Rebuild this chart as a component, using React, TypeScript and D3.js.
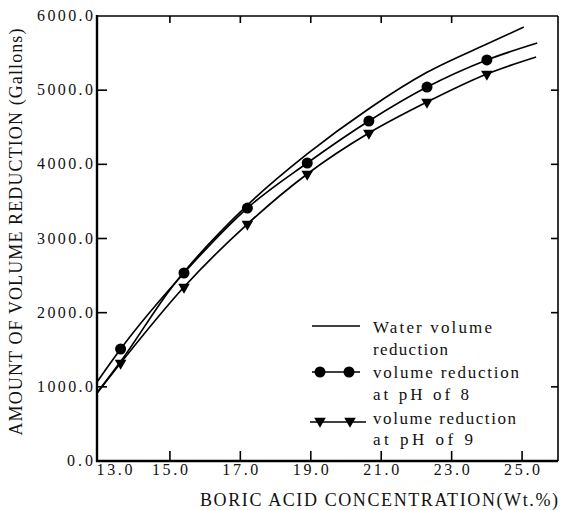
import React from 'react';
import * as d3 from 'd3';

// ==== data

const concentration = [13.6, 15.4, 17.2, 18.9, 20.65, 22.3, 24.0];
const ph8Values = [1510, 2535, 3411, 4018, 4584, 5042, 5407];
const ph9Values = [1321, 2346, 3195, 3870, 4422, 4840, 5218];

// where the drawn curves start / stop beyond the measured points
const ph8Ends = [[12.93, 1065], [25.43, 5636]];
const ph9Ends = [[12.93, 917], [25.4, 5447]];

const waterX = [12.93, 13.6, 15.05, 17.2, 18.9, 20.65, 22.3, 24.0, 25.05];
const waterY = [917, 1340, 2340, 3450, 4140, 4750, 5240, 5622, 5851];

const xTicks = [13, 15, 17, 19, 21, 23, 25];
const xTickLabels = ['13.0', '15.0', '17.0', '19.0', '21.0', '23.0', '25.0'];
const yTicks = [0, 1000, 2000, 3000, 4000, 5000, 6000];
const yTickLabels = ['0.0', '1000.0', '2000.0', '3000.0', '4000.0', '5000.0', '6000.0'];

const legendLabels = [
    ['Water volume', 'reduction'],
    ['volume reduction', 'at pH of 8'],
    ['volume reduction', 'at pH of 9'],
];

// ====

const W = 561;
const H = 510;
const FONT = "'Liberation Serif', 'DejaVu Serif', 'Times New Roman', Times, serif";

const x = d3.scaleLinear().domain([12.93, 26.02]).range([97, 558]);
const y = d3.scaleLinear().domain([0, 6000]).range([461, 16]);

const line = d3.line<number[]>()
    .x((d) => x(d[0]))
    .y((d) => y(d[1]))
    .curve(d3.curveMonotoneX);

const withEnds = (vals: number[], ends: number[][]) =>
    [ends[0], ...concentration.map((c, i) => [c, vals[i]]), ends[1]];

const triangle = d3.symbol().type(d3.symbolTriangle).size(58)();

function Circle({ cx, cy }: { cx: number; cy: number }) {
    return <circle cx={cx} cy={cy} r={5.5} fill="#000" />;
}

function Tri({ cx, cy }: { cx: number; cy: number }) {
    return <path d={triangle || ''} transform={`translate(${cx},${cy}) rotate(180)`} fill="#000" />;
}

export default function App() {
    const waterPts = waterX.map((v, i) => [v, waterY[i]]);
    const ph8Pts = withEnds(ph8Values, ph8Ends);
    const ph9Pts = withEnds(ph9Values, ph9Ends);

    const yLabelWidth = (s: string) => (s.length === 3 ? 26 : 56);
    const txt = { fontFamily: FONT, fill: '#111' };

    return (
        <svg
            width={W}
            height={H}
            style={{ position: 'absolute', left: 0, top: 0, background: '#fff', fontFamily: FONT }}
        >
            {/* frame */}
            <line x1={97} y1={16} x2={558} y2={16} stroke="#000" strokeWidth={1.6} />
            <line x1={558} y1={16} x2={558} y2={461} stroke="#000" strokeWidth={1.6} />
            <line x1={97} y1={15} x2={97} y2={462} stroke="#000" strokeWidth={2.4} />
            <line x1={96} y1={461} x2={558} y2={461} stroke="#000" strokeWidth={2.4} />

            {/* y ticks */}
            {yTicks.map((t, i) => (
                <g key={'y' + t}>
                    {t > 0 && t < 6000 && (
                        <line x1={97} x2={107} y1={y(t)} y2={y(t)} stroke="#000" strokeWidth={1.6} />
                    )}
                    {t > 0 && t < 6000 && (
                        <line x1={551} x2={558} y1={y(t)} y2={y(t)} stroke="#000" strokeWidth={1.6} />
                    )}
                    <text
                        style={txt}
                        x={93}
                        y={y(t) + 5}
                        textAnchor="end"
                        fontSize={16}
                        textLength={yLabelWidth(yTickLabels[i])}
                        lengthAdjust="spacing"
                    >
                        {yTickLabels[i]}
                    </text>
                </g>
            ))}

            {/* x ticks */}
            {xTicks.map((t, i) => (
                <g key={'x' + t}>
                    {t > 13 && (
                        <line x1={x(t)} x2={x(t)} y1={461} y2={451} stroke="#000" strokeWidth={1.6} />
                    )}
                    {t > 13 && t < 25 && (
                        <line x1={x(t)} x2={x(t)} y1={16} y2={23} stroke="#000" strokeWidth={1.6} />
                    )}
                    <text
                        style={txt}
                        x={x(t) + (i === 0 ? 15 : 0)}
                        y={475}
                        textAnchor="middle"
                        fontSize={16}
                        textLength={36}
                        lengthAdjust="spacing"
                    >
                        {xTickLabels[i]}
                    </text>
                </g>
            ))}

            {/* axis titles */}
            <text style={txt} x={200} y={506} fontSize={18} textLength={358} lengthAdjust="spacing">
                BORIC ACID CONCENTRATION(Wt.%)
            </text>
            <text
                style={txt}
                transform="translate(22,232) rotate(-90)"
                textAnchor="middle"
                fontSize={18}
                textLength={407}
                lengthAdjust="spacing"
            >
                AMOUNT OF VOLUME REDUCTION (Gallons)
            </text>

            {/* curves */}
            <path d={line(waterPts) || ''} fill="none" stroke="#000" strokeWidth={1.7} />
            <path d={line(ph8Pts) || ''} fill="none" stroke="#000" strokeWidth={1.7} />
            <path d={line(ph9Pts) || ''} fill="none" stroke="#000" strokeWidth={1.7} />

            {concentration.map((c, i) => (
                <Circle key={'c' + c} cx={x(c)} cy={y(ph8Values[i])} />
            ))}
            {concentration.map((c, i) => (
                <Tri key={'t' + c} cx={x(c)} cy={y(ph9Values[i])} />
            ))}

            {/* legend */}
            <line x1={312} x2={360} y1={326} y2={326} stroke="#000" strokeWidth={1.7} />
            <line x1={312} x2={360} y1={372} y2={372} stroke="#000" strokeWidth={1.7} />
            <Circle cx={320} cy={372} />
            <Circle cx={349} cy={372} />
            <line x1={310} x2={366} y1={422} y2={422} stroke="#000" strokeWidth={1.7} />
            <Tri cx={320} cy={421} />
            <Tri cx={350} cy={421} />

            {[
                [legendLabels[0][0], 333, 119],
                [legendLabels[0][1], 355, 75],
                [legendLabels[1][0], 378, 146],
                [legendLabels[1][1], 400, 96],
                [legendLabels[2][0], 424, 143],
                [legendLabels[2][1], 445, 100],
            ].map(([s, ty, tl]) => (
                <text
                    style={txt}
                    key={String(ty)}
                    x={373}
                    y={Number(ty)}
                    fontSize={17}
                    textLength={Number(tl)}
                    lengthAdjust="spacing"
                >
                    {s}
                </text>
            ))}
        </svg>
    );
}
